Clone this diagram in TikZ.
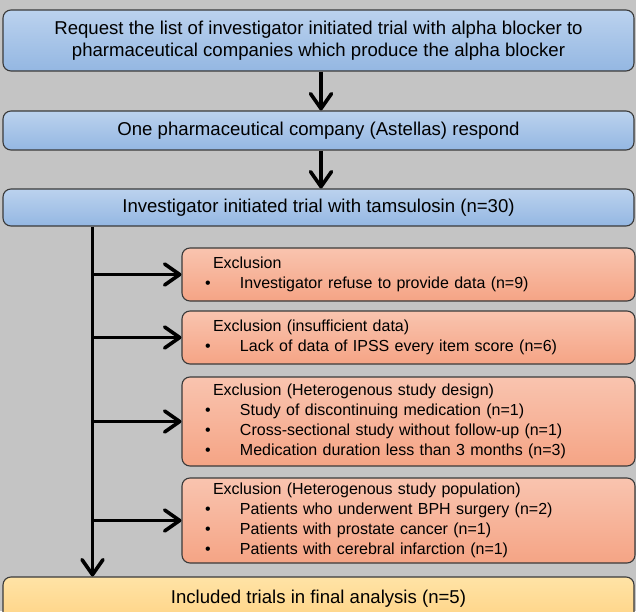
\documentclass[tikz,border=0pt]{standalone}
\usepackage{fontspec}
\setmainfont{Liberation Sans}
\usetikzlibrary{arrows.meta}
\definecolor{bgcol}{HTML}{C4C4C4}
\definecolor{edgecol}{HTML}{3A3A3A}
\definecolor{blueT}{HTML}{BBD2EE}
\definecolor{blueB}{HTML}{94B7E2}
\definecolor{orT}{HTML}{F9C4AF}
\definecolor{orB}{HTML}{F5A485}
\definecolor{yelT}{HTML}{FFE3A6}
\definecolor{yelB}{HTML}{FFD486}
\newcommand\exitem{\makebox[35pt][l]{\textbullet}}
\begin{document}
\begin{tikzpicture}[x=1pt,y=1pt,
  box/.style={draw=edgecol, line width=1.1pt, rounded corners=8pt, inner sep=0pt},
  mainbox/.style={box, top color=blueT, bottom color=blueB, minimum width=631pt,
    align=center, font=\fontsize{18.6}{22}\selectfont},
  yelbox/.style={box, top color=yelT, bottom color=yelB, minimum width=631pt,
    align=center, font=\fontsize{18.6}{22}\selectfont},
  exbox/.style={box, top color=orT, bottom color=orB, text width=407pt,
    inner xsep=23pt, inner ysep=0pt, align=left, font=\fontsize{16}{20}\selectfont},
  arr/.style={line width=3.6pt, -{Straight Barb[length=15pt, width=21pt, round]}}
]
\useasboundingbox (0,0) rectangle (636,611);
\fill[bgcol] (0,0) rectangle (636,611);
\clip (0,0) rectangle (636,611);

\node[mainbox, minimum height=61pt] (b1) at (318.5,570.5)
  {Request the list of investigator initiated trial with alpha blocker to\\
   pharmaceutical companies which produce the alpha blocker};
\node[mainbox, minimum height=39pt] (b2) at (318.5,480.5)
  {One pharmaceutical company (Astellas) respond};
\node[mainbox, minimum height=37pt] (b3) at (318.5,403.5)
  {Investigator initiated trial with tamsulosin (n=30)};

\node[exbox, minimum height=53pt] (e1) at (408.5,336.5)
  {\hspace*{8pt}Exclusion\\
   \exitem Investigator refuse to provide data (n=9)};
\node[exbox, minimum height=53pt] (e2) at (408.5,273.5)
  {\hspace*{8pt}Exclusion (insufficient data)\\
   \exitem Lack of data of IPSS every item score (n=6)};
\node[exbox, minimum height=89pt] (e3) at (408.5,189.5)
  {\hspace*{8pt}Exclusion (Heterogenous study design)\\
   \exitem Study of discontinuing medication (n=1)\\
   \exitem Cross-sectional study without follow-up (n=1)\\
   \exitem Medication duration less than 3 months (n=3)};
\node[exbox, minimum height=85pt] (e4) at (408.5,90.5)
  {\hspace*{8pt}Exclusion (Heterogenous study population)\\
   \exitem Patients who underwent BPH surgery (n=2)\\
   \exitem Patients with prostate cancer (n=1)\\
   \exitem Patients with cerebral infarction (n=1)};

\node[yelbox, minimum height=44pt] (b6) at (318.5,12)
  {Included trials in final analysis (n=5)};

\coordinate (spine) at (92.5,0);

\draw[arr] ([xshift=2.5pt]b1.south) -- ([xshift=2.5pt]b2.north);
\draw[arr] ([xshift=2.5pt]b2.south) -- ([xshift=2.5pt]b3.north);
\draw[arr] (b3.south -| spine) -- (b6.north -| spine);
\draw[arr] (e1.west -| spine) -- (e1.west);
\draw[arr] (e2.west -| spine) -- (e2.west);
\draw[arr] (e3.west -| spine) -- (e3.west);
\draw[arr] (e4.west -| spine) -- (e4.west);
\end{tikzpicture}
\end{document}
